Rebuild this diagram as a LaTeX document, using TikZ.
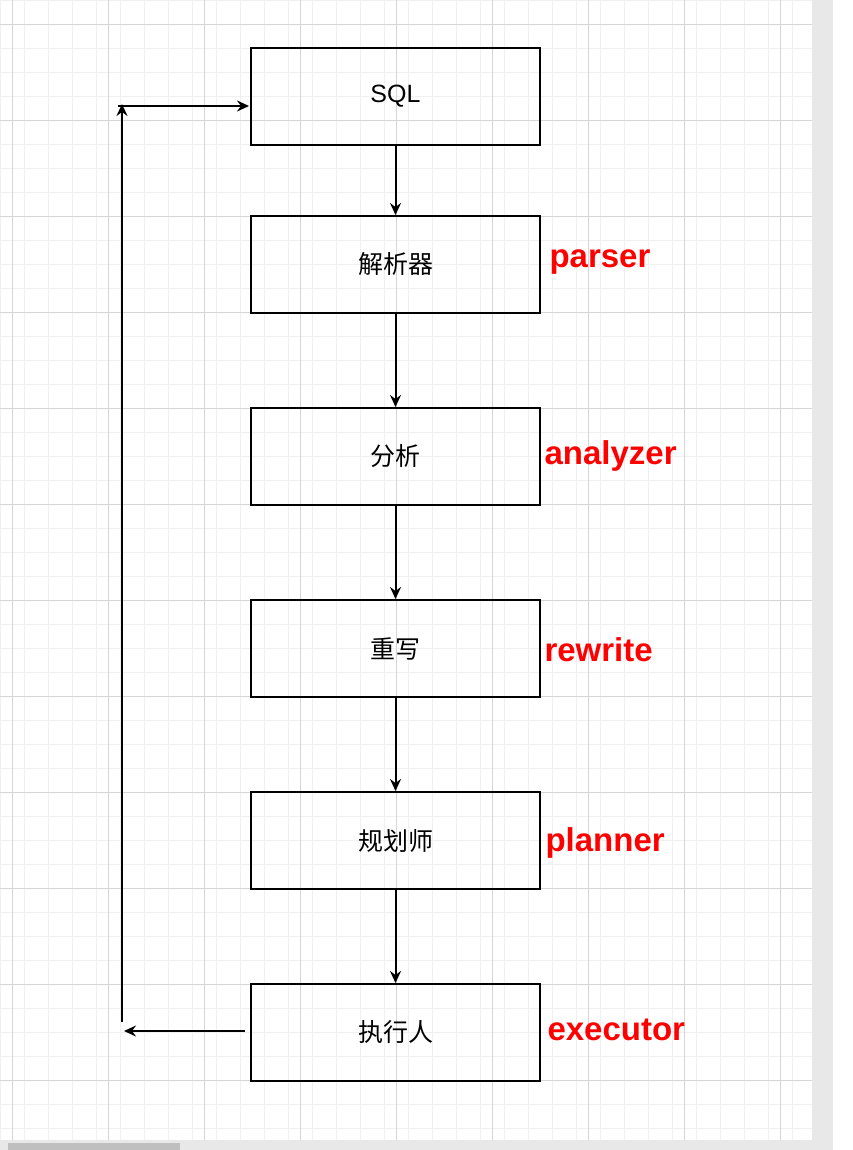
\documentclass[tikz,border=0pt]{standalone}
\usepackage{fontspec}
\setmainfont{Liberation Sans}
\newfontfamily\cjk{Noto Sans CJK SC}
\usetikzlibrary{arrows.meta}
\definecolor{minorgrid}{HTML}{F0F0F0}
\definecolor{majorgrid}{HTML}{D6D6D6}
\definecolor{sidebar}{HTML}{E8E8E8}

\begin{document}
\begin{tikzpicture}[x=1pt,y=-1pt]
  \tikzset{stage/.style = {draw, line width=2pt, minimum width=289pt, minimum height=97pt, font=\fontsize{25}{25}\selectfont}}
  \tikzset{tag/.style = {anchor=west, text=red, font=\bfseries\fontsize{33}{33}\selectfont}}
  \tikzset{flow/.style = {line width=2pt, -{Stealth[length=12pt,width=11pt,inset=4pt]}}}

  \useasboundingbox (0,0) rectangle (853,1150);
  % grid
  \foreach \k in {0,24,...,1140} \draw[minorgrid] (0,\k) -- (812,\k);
  \foreach \k in {0,24,...,812} \draw[minorgrid] (\k,0) -- (\k,1140);
  \foreach \k in {24,120,...,1140} \draw[majorgrid] (0,\k) -- (812,\k);
  \foreach \k in {12,108,...,812} \draw[majorgrid] (\k,0) -- (\k,1140);
  \fill[sidebar] (812,0) rectangle (833,1150);
  \fill[sidebar] (0,1140) rectangle (833,1150);
  \fill[black!25] (8,1143) rectangle (180,1150);

  \node[stage] (sql) at (395.5,96.5) {SQL};
  \node[stage] (parser) at (395.5,264.5) {\cjk 解析器};
  \node[stage] (analyzer) at (395.5,456.5) {\cjk 分析};
  \node[stage] (rewrite) at (395.5,648.5) {\cjk 重写};
  \node[stage] (planner) at (395.5,840.5) {\cjk 规划师};
  \node[stage] (executor) at (395.5,1032.5) {\cjk 执行人};

  \node[tag] at (546,262) (tparser) {parser};
  \node[tag] at (541,456) (tanalyzer) {analyzer};
  \node[tag] at (541,650) (trewrite) {rewrite};
  \node[tag] at (542,843) (tplanner) {planner};
  \node[tag] at (544,1030) (texecutor) {executor};

  \draw[flow] (sql) -- (parser);
  \draw[flow] (parser) -- (analyzer);
  \draw[flow] (analyzer) -- (rewrite);
  \draw[flow] (rewrite) -- (planner);
  \draw[flow] (planner) -- (executor);

  % feedback loop
  \coordinate (outend) at (124,1031);
  \coordinate (upstart) at (122,1022);
  \coordinate (upend) at (122,104);
  \coordinate (backstart) at (118,106);
  \coordinate (backend) at (249,106);
  \draw[flow, shorten <=5pt] (executor.west |- outend) -- (outend);
  \draw[flow] (upstart) -- (upend);
  \draw[flow] (backstart) -- (backend);
\end{tikzpicture}
\end{document}
